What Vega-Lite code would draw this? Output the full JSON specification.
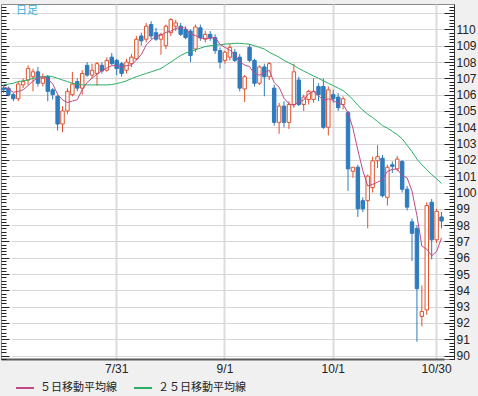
{
  "$schema": "https://vega.github.io/schema/vega-lite/v6.json",
  "width": 453,
  "height": 355,
  "autosize": {"type": "pad"},
  "padding": {"left": 0, "top": 0, "right": 3, "bottom": 3},
  "background": "#f0f0f0",
  "title": {"text": "日足", "anchor": "start", "align": "left", "frame": "group", "orient": "top", "offset": -15, "dx": 15, "font": "Noto Sans CJK JP", "fontSize": 11, "fontWeight": "normal", "color": "#3aaee6"},
  "config": {
    "view": {"fill": "#ffffff", "stroke": "#8a8a8a", "strokeWidth": 1}
  },
  "data": {"values": [
    {"d": "6/30", "o": 106.4, "h": 106.6, "l": 106.1, "c": 106.3, "ma5": 106.5, "ma25": 106.6},
    {"d": "7/1", "o": 106.4, "h": 106.5, "l": 105.9, "c": 106.0, "ma5": 106.35, "ma25": 106.65},
    {"d": "7/2", "o": 106.0, "h": 106.1, "l": 105.6, "c": 105.75, "ma5": 106.15, "ma25": 106.7},
    {"d": "7/3", "o": 105.75, "h": 106.8, "l": 105.6, "c": 106.65, "ma5": 106.2, "ma25": 106.8},
    {"d": "7/4", "o": 106.6, "h": 107.0, "l": 106.4, "c": 106.8, "ma5": 106.3, "ma25": 106.85},
    {"d": "7/7", "o": 106.9, "h": 107.8, "l": 106.6, "c": 107.6, "ma5": 106.56, "ma25": 106.9},
    {"d": "7/8", "o": 107.1, "h": 107.6, "l": 106.2, "c": 107.4, "ma5": 106.84, "ma25": 107.0},
    {"d": "7/9", "o": 107.4, "h": 107.7, "l": 106.5, "c": 106.7, "ma5": 107.03, "ma25": 107.05},
    {"d": "7/10", "o": 106.7, "h": 107.3, "l": 106.5, "c": 107.0, "ma5": 107.1, "ma25": 107.1},
    {"d": "7/11", "o": 107.1, "h": 107.2, "l": 105.6, "c": 106.2, "ma5": 106.98, "ma25": 107.15},
    {"d": "7/14", "o": 106.3, "h": 106.4, "l": 105.7, "c": 106.0, "ma5": 106.66, "ma25": 107.1},
    {"d": "7/15", "o": 105.9, "h": 106.0, "l": 103.8, "c": 104.2, "ma5": 106.02, "ma25": 107.0},
    {"d": "7/16", "o": 104.2, "h": 105.3, "l": 103.7, "c": 105.0, "ma5": 105.68, "ma25": 106.9},
    {"d": "7/17", "o": 105.0, "h": 106.4, "l": 104.8, "c": 106.2, "ma5": 105.52, "ma25": 106.8},
    {"d": "7/18", "o": 106.0, "h": 107.4, "l": 105.9, "c": 106.65, "ma5": 105.61, "ma25": 106.7},
    {"d": "7/21", "o": 106.8, "h": 107.0, "l": 106.2, "c": 106.4, "ma5": 105.69, "ma25": 106.65},
    {"d": "7/22", "o": 106.4, "h": 107.5, "l": 106.0, "c": 107.3, "ma5": 106.31, "ma25": 106.6},
    {"d": "7/23", "o": 107.8, "h": 108.0, "l": 107.1, "c": 107.2, "ma5": 106.75, "ma25": 106.6},
    {"d": "7/24", "o": 107.2, "h": 107.9, "l": 107.0, "c": 107.5, "ma5": 107.01, "ma25": 106.6},
    {"d": "7/25", "o": 107.3, "h": 108.0, "l": 106.55, "c": 107.9, "ma5": 107.26, "ma25": 106.6},
    {"d": "7/28", "o": 107.8, "h": 108.0, "l": 107.3, "c": 107.45, "ma5": 107.47, "ma25": 106.6},
    {"d": "7/29", "o": 107.5, "h": 108.3, "l": 107.4, "c": 108.1, "ma5": 107.63, "ma25": 106.6},
    {"d": "7/30", "o": 108.3, "h": 108.55, "l": 107.8, "c": 107.9, "ma5": 107.77, "ma25": 106.62},
    {"d": "7/31", "o": 108.1, "h": 108.2, "l": 107.2, "c": 107.6, "ma5": 107.79, "ma25": 106.68},
    {"d": "8/1", "o": 107.9, "h": 108.0, "l": 107.1, "c": 107.3, "ma5": 107.67, "ma25": 106.75},
    {"d": "8/4", "o": 107.5, "h": 108.2, "l": 107.3, "c": 108.0, "ma5": 107.78, "ma25": 106.85},
    {"d": "8/5", "o": 107.9, "h": 108.5, "l": 107.7, "c": 108.3, "ma5": 107.82, "ma25": 106.98},
    {"d": "8/6", "o": 108.2, "h": 109.6, "l": 108.1, "c": 109.4, "ma5": 108.12, "ma25": 107.1},
    {"d": "8/7", "o": 109.6, "h": 109.8, "l": 109.0, "c": 109.3, "ma5": 108.46, "ma25": 107.2},
    {"d": "8/8", "o": 109.4, "h": 110.4, "l": 109.2, "c": 110.2, "ma5": 109.04, "ma25": 107.3},
    {"d": "8/11", "o": 110.3, "h": 110.5, "l": 109.4, "c": 109.6, "ma5": 109.36, "ma25": 107.4},
    {"d": "8/12", "o": 109.8, "h": 110.1, "l": 109.3, "c": 109.4, "ma5": 109.58, "ma25": 107.5},
    {"d": "8/13", "o": 109.4, "h": 109.8, "l": 108.45, "c": 109.7, "ma5": 109.64, "ma25": 107.6},
    {"d": "8/14", "o": 109.0, "h": 110.3, "l": 108.8, "c": 110.2, "ma5": 109.82, "ma25": 107.8},
    {"d": "8/15", "o": 109.8, "h": 110.7, "l": 109.6, "c": 110.6, "ma5": 109.9, "ma25": 108.0},
    {"d": "8/18", "o": 110.2, "h": 110.6, "l": 109.9, "c": 110.4, "ma5": 110.06, "ma25": 108.2},
    {"d": "8/19", "o": 110.2, "h": 110.4, "l": 109.6, "c": 109.7, "ma5": 110.12, "ma25": 108.4},
    {"d": "8/20", "o": 110.0, "h": 110.2, "l": 109.4, "c": 109.5, "ma5": 110.08, "ma25": 108.55},
    {"d": "8/21", "o": 109.9, "h": 110.0, "l": 108.0, "c": 108.4, "ma5": 109.72, "ma25": 108.65},
    {"d": "8/22", "o": 108.8, "h": 110.3, "l": 108.6, "c": 110.15, "ma5": 109.63, "ma25": 108.75},
    {"d": "8/25", "o": 110.1, "h": 110.3, "l": 109.3, "c": 109.5, "ma5": 109.45, "ma25": 108.85},
    {"d": "8/26", "o": 109.4, "h": 109.9, "l": 109.2, "c": 109.7, "ma5": 109.45, "ma25": 108.95},
    {"d": "8/27", "o": 109.7, "h": 109.9, "l": 109.3, "c": 109.5, "ma5": 109.45, "ma25": 109.0},
    {"d": "8/28", "o": 109.5, "h": 109.7, "l": 108.5, "c": 108.7, "ma5": 109.51, "ma25": 109.05},
    {"d": "8/29", "o": 108.7, "h": 108.9, "l": 107.6, "c": 108.0, "ma5": 109.08, "ma25": 109.05},
    {"d": "9/1", "o": 108.1, "h": 108.7, "l": 107.9, "c": 108.6, "ma5": 108.9, "ma25": 109.1},
    {"d": "9/2", "o": 108.3, "h": 109.1, "l": 108.1, "c": 108.9, "ma5": 108.74, "ma25": 109.12},
    {"d": "9/3", "o": 108.6, "h": 108.8, "l": 108.0, "c": 108.1, "ma5": 108.46, "ma25": 109.15},
    {"d": "9/4", "o": 108.3, "h": 108.5, "l": 106.2, "c": 106.4, "ma5": 108.0, "ma25": 109.15},
    {"d": "9/5", "o": 106.35, "h": 107.2, "l": 105.55, "c": 107.1, "ma5": 107.82, "ma25": 109.12},
    {"d": "9/8", "o": 108.9, "h": 109.1, "l": 108.0, "c": 108.1, "ma5": 107.72, "ma25": 109.1},
    {"d": "9/9", "o": 108.1, "h": 108.2, "l": 106.5, "c": 106.7, "ma5": 107.28, "ma25": 109.0},
    {"d": "9/10", "o": 106.7, "h": 107.8, "l": 106.6, "c": 107.7, "ma5": 107.2, "ma25": 108.9},
    {"d": "9/11", "o": 107.7, "h": 107.9, "l": 105.9, "c": 107.1, "ma5": 107.34, "ma25": 108.8},
    {"d": "9/12", "o": 107.1, "h": 108.0, "l": 106.9, "c": 107.9, "ma5": 107.5, "ma25": 108.6},
    {"d": "9/15", "o": 106.4, "h": 106.6, "l": 104.1, "c": 104.3, "ma5": 106.74, "ma25": 108.45},
    {"d": "9/16", "o": 104.3, "h": 105.5, "l": 103.6, "c": 105.3, "ma5": 106.46, "ma25": 108.3},
    {"d": "9/17", "o": 105.3, "h": 105.6, "l": 104.0, "c": 104.3, "ma5": 105.78, "ma25": 108.1},
    {"d": "9/18", "o": 104.3, "h": 105.6, "l": 103.9, "c": 105.4, "ma5": 105.44, "ma25": 107.95},
    {"d": "9/19", "o": 105.4, "h": 107.9, "l": 105.2, "c": 107.4, "ma5": 105.34, "ma25": 107.8},
    {"d": "9/22", "o": 106.9, "h": 107.1, "l": 105.3, "c": 105.4, "ma5": 105.56, "ma25": 107.6},
    {"d": "9/23", "o": 105.4, "h": 106.0, "l": 105.0, "c": 105.85, "ma5": 105.67, "ma25": 107.45},
    {"d": "9/24", "o": 105.7, "h": 106.3, "l": 105.4, "c": 106.2, "ma5": 106.05, "ma25": 107.3},
    {"d": "9/25", "o": 105.7, "h": 107.0, "l": 105.5, "c": 106.2, "ma5": 106.21, "ma25": 107.15},
    {"d": "9/26", "o": 106.5, "h": 106.7, "l": 105.6, "c": 106.0, "ma5": 105.93, "ma25": 107.0},
    {"d": "9/29", "o": 106.5, "h": 107.0, "l": 103.9, "c": 104.0, "ma5": 105.65, "ma25": 106.85},
    {"d": "9/30", "o": 104.0, "h": 106.5, "l": 103.5, "c": 106.3, "ma5": 105.74, "ma25": 106.7},
    {"d": "10/1", "o": 106.0, "h": 106.3, "l": 105.5, "c": 105.75, "ma5": 105.65, "ma25": 106.55},
    {"d": "10/2", "o": 105.85, "h": 106.1, "l": 105.0, "c": 105.2, "ma5": 105.45, "ma25": 106.4},
    {"d": "10/3", "o": 105.4, "h": 105.9, "l": 105.1, "c": 105.75, "ma5": 105.4, "ma25": 106.25},
    {"d": "10/6", "o": 104.9, "h": 105.0, "l": 100.1, "c": 101.45, "ma5": 104.89, "ma25": 106.0},
    {"d": "10/7", "o": 101.3, "h": 101.55, "l": 100.9, "c": 101.55, "ma5": 103.94, "ma25": 105.7},
    {"d": "10/8", "o": 101.55, "h": 101.7, "l": 98.5, "c": 99.0, "ma5": 102.59, "ma25": 105.35},
    {"d": "10/9", "o": 99.5, "h": 99.7, "l": 98.8, "c": 99.0, "ma5": 101.35, "ma25": 105.05},
    {"d": "10/10", "o": 99.5, "h": 101.1, "l": 97.8, "c": 101.0, "ma5": 100.4, "ma25": 104.8},
    {"d": "10/13", "o": 100.3, "h": 102.2, "l": 100.0, "c": 101.95, "ma5": 100.5, "ma25": 104.6},
    {"d": "10/14", "o": 101.95, "h": 102.9, "l": 101.5, "c": 102.2, "ma5": 100.63, "ma25": 104.35},
    {"d": "10/15", "o": 102.1, "h": 102.3, "l": 99.7, "c": 99.8, "ma5": 100.79, "ma25": 104.1},
    {"d": "10/16", "o": 99.7, "h": 101.7, "l": 99.2, "c": 101.55, "ma5": 101.3, "ma25": 103.95},
    {"d": "10/17", "o": 101.7, "h": 101.9, "l": 101.2, "c": 101.6, "ma5": 101.42, "ma25": 103.75},
    {"d": "10/20", "o": 101.45, "h": 102.25, "l": 101.3, "c": 102.05, "ma5": 101.44, "ma25": 103.55},
    {"d": "10/21", "o": 101.9, "h": 102.0, "l": 100.0, "c": 100.2, "ma5": 101.04, "ma25": 103.3},
    {"d": "10/22", "o": 100.2, "h": 100.4, "l": 98.9, "c": 99.1, "ma5": 100.9, "ma25": 102.9},
    {"d": "10/23", "o": 98.2, "h": 98.4, "l": 95.8, "c": 97.5, "ma5": 100.09, "ma25": 102.5},
    {"d": "10/24", "o": 97.8, "h": 98.0, "l": 90.85, "c": 94.1, "ma5": 98.59, "ma25": 102.05},
    {"d": "10/27", "o": 92.4, "h": 94.3, "l": 91.8, "c": 92.7, "ma5": 96.72, "ma25": 101.7},
    {"d": "10/28", "o": 92.8, "h": 99.4, "l": 92.5, "c": 99.2, "ma5": 96.52, "ma25": 101.4},
    {"d": "10/29", "o": 99.4, "h": 99.6, "l": 95.9, "c": 97.1, "ma5": 96.12, "ma25": 101.1},
    {"d": "10/30", "o": 97.1, "h": 99.0, "l": 96.9, "c": 98.85, "ma5": 96.39, "ma25": 100.85},
    {"d": "10/31", "o": 98.5, "h": 98.8, "l": 97.8, "c": 98.25, "ma5": 97.22, "ma25": 100.55}
  ]},
  "encoding": {
    "x": {
      "field": "d", "type": "ordinal", "sort": null,
      "scale": {"range": [0, 443], "paddingInner": 0, "paddingOuter": 0},
      "axis": {
        "values": ["7/31", "9/1", "10/1", "10/30"],
        "bandPosition": 0.5,
        "grid": true, "gridColor": "#dcdcdc", "gridWidth": 2,
        "ticks": false,
        "domain": true, "domainColor": "#5a5a5a", "domainWidth": 2,
        "labelAngle": 0, "labelPadding": 4,
        "labelFont": "Liberation Sans", "labelFontSize": 12, "labelColor": "#222222",
        "title": null
      }
    }
  },
  "layer": [
    {
      "mark": {"type": "rule", "strokeWidth": 1},
      "encoding": {
        "y": {
          "field": "l", "type": "quantitative",
          "scale": {"domain": [89.79, 111.56], "nice": false, "zero": false},
          "axis": {
            "orient": "left", "tickCount": 100, "labels": false, "domain": false, "grid": false,
            "ticks": true, "tickColor": "#222222",
            "tickSize": {"condition": {"test": "abs(datum.value - round(datum.value)) < 0.01", "value": -8}, "value": -5},
            "title": null
          }
        },
        "y2": {"field": "h"},
        "color": {"condition": {"test": "datum.c >= datum.o", "value": "#e0522c"}, "value": "#2e7bbd"}
      }
    },
    {
      "mark": {"type": "bar", "width": {"band": 0.7}, "strokeWidth": 1},
      "encoding": {
        "y": {
          "field": "o", "type": "quantitative",
          "scale": {"domain": [89.79, 111.56], "nice": false, "zero": false},
          "axis": {
            "orient": "right", "tickCount": 100,
            "grid": true, "gridColor": "#d6d6d6", "gridWidth": 1,
            "gridOpacity": {"condition": {"test": "abs(datum.value - round(datum.value)) < 0.01", "value": 1}, "value": 0},
            "ticks": true, "tickColor": "#222222",
            "tickSize": {"condition": {"test": "abs(datum.value - round(datum.value)) < 0.01", "value": -10}, "value": -5},
            "domain": true, "domainColor": "#333333",
            "labelExpr": "abs(datum.value - round(datum.value)) < 0.01 && datum.value < 110.5 ? format(datum.value, '.0f') : ''",
            "labelPadding": 12, "labelOverlap": false, "labelFlush": false,
            "labelFont": "Liberation Sans", "labelFontSize": 12, "labelColor": "#222222", "labelBaseline": "middle",
            "title": null
          }
        },
        "y2": {"field": "c"},
        "fill": {"condition": {"test": "datum.c >= datum.o", "value": "#ffffff"}, "value": "#2e7bbd"},
        "stroke": {"condition": {"test": "datum.c >= datum.o", "value": "#e0522c"}, "value": "#2e7bbd"}
      }
    },
    {
      "mark": {"type": "line", "strokeWidth": 1},
      "encoding": {
        "y": {"field": "ma25", "type": "quantitative", "scale": {"domain": [89.79, 111.56], "nice": false, "zero": false}, "axis": null},
        "color": {"datum": "２５日移動平均線", "type": "nominal"}
      }
    },
    {
      "mark": {"type": "line", "strokeWidth": 1},
      "encoding": {
        "y": {"field": "ma5", "type": "quantitative", "scale": {"domain": [89.79, 111.56], "nice": false, "zero": false}, "axis": null},
        "color": {
          "datum": "５日移動平均線", "type": "nominal",
          "scale": {"domain": ["５日移動平均線", "２５日移動平均線"], "range": ["#c04a86", "#2aae66"]},
          "legend": {
            "orient": "none", "legendX": 14, "legendY": 374, "direction": "horizontal", "columns": 2,
            "columnPadding": 13, "padding": 0, "title": null,
            "symbolType": "stroke", "symbolSize": 324, "symbolStrokeWidth": 2, "labelOffset": 5,
            "labelFont": "Noto Sans CJK JP", "labelFontSize": 11, "labelColor": "#222222", "labelLimit": 200
          }
        }
      }
    }
  ],
  "resolve": {"axis": {"y": "independent"}}
}
